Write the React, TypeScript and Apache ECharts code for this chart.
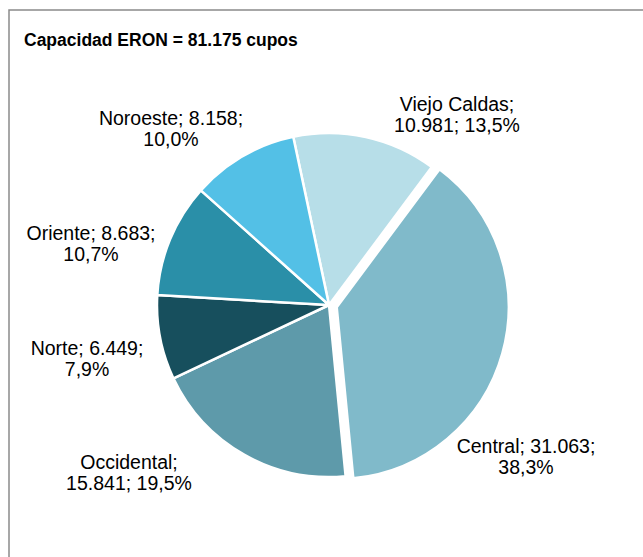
import React, { useEffect, useRef } from "react";
import * as echarts from "echarts";

const categories = ["Viejo Caldas", "Central", "Occidental", "Norte", "Oriente", "Noroeste"];
const values = [10981, 31063, 15841, 6449, 8683, 8158];
const colors = ["#B7DEE8", "#80BACA", "#5E9AAA", "#174F5D", "#2A8FA8", "#53C0E6"];
const explodedSlice = "Central";
const labelCenters: [number, number][] = [
  [457, 114],
  [526, 456],
  [129, 472],
  [87, 358],
  [91, 243],
  [171, 128],
];
const titleText = "Capacidad ERON = 81.175 cupos";

const fmtInt = (v: number) => String(v).replace(/\B(?=(\d{3})+(?!\d))/g, ".");
const fmtPct = (p: number) => p.toFixed(1).replace(".", ",") + "%";

export default function App() {
  const ref = useRef<HTMLDivElement>(null);
  useEffect(() => {
    if (!ref.current) return;
    const chart = echarts.init(ref.current, undefined, { renderer: "svg" });
    const total = values.reduce((a, b) => a + b, 0);
    const font = "'Liberation Sans', Arial, Helvetica, sans-serif";
    const labelText = (i: number) => {
      const name = categories[i];
      const pct = fmtPct((values[i] / total) * 100);
      const v = fmtInt(values[i]);
      return name.length > 9 ? `${name};\n${v}; ${pct}` : `${name}; ${v};\n${pct}`;
    };
    chart.setOption({
      animation: false,
      backgroundColor: "#ffffff",
      graphic: [
        {
          type: "rect",
          shape: { x: 9, y: 10, width: 700, height: 620 },
          style: { fill: "none", stroke: "#8a8a8a", lineWidth: 1.5 },
          silent: true,
        },
        {
          type: "text",
          x: 24,
          y: 40,
          style: {
            text: titleText,
            font: `bold 17.5px ${font}`,
            fill: "#000000",
            verticalAlign: "middle",
            align: "left",
          },
        },
        ...categories.map((_, i) => ({
          type: "text",
          x: labelCenters[i][0],
          y: labelCenters[i][1],
          z: 10,
          style: {
            text: labelText(i),
            font: `19.5px ${font}`,
            lineHeight: 21,
            fill: "#000000",
            align: "center",
            verticalAlign: "middle",
          },
        })),
      ],
      series: [
        {
          type: "pie",
          center: [329, 305],
          radius: 172,
          startAngle: 102,
          clockwise: true,
          avoidLabelOverlap: false,
          selectedMode: "single",
          selectedOffset: 8,
          itemStyle: { borderColor: "#ffffff", borderWidth: 2.5 },
          select: { itemStyle: { borderColor: "#ffffff", borderWidth: 2.5 }, label: { show: false } },
          emphasis: { disabled: true },
          labelLine: { show: false },
          label: { show: false },
          data: categories.map((name, i) => ({
            name,
            value: values[i],
            selected: name === explodedSlice,
            itemStyle: { color: colors[i] },
            select: { itemStyle: { color: colors[i] } },
          })),
        },
      ],
    });
    return () => chart.dispose();
  }, []);
  return (
    <div
      ref={ref}
      style={{ position: "fixed", left: 0, top: 0, width: 643, height: 557 }}
    />
  );
}
